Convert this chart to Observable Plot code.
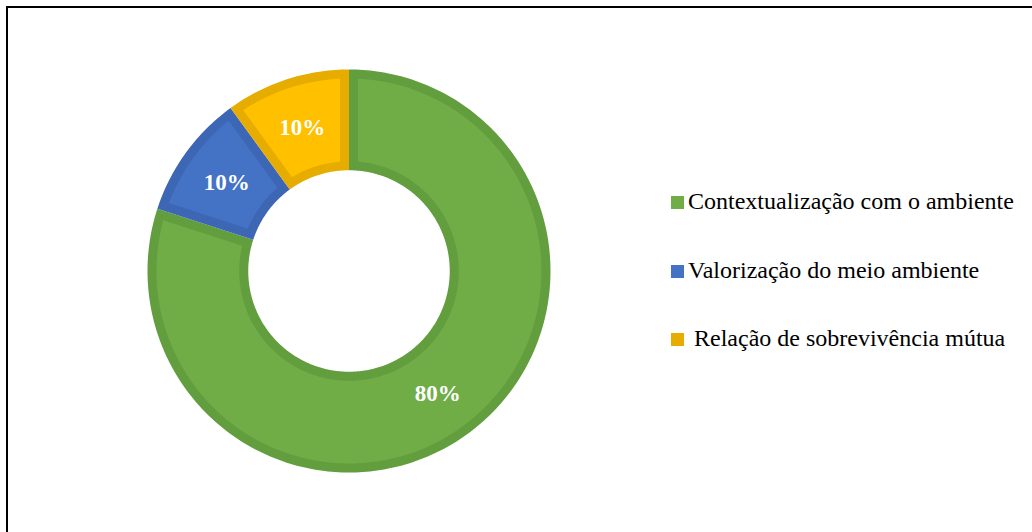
<!DOCTYPE html>
<html>
<head>
<meta charset="utf-8">
<script src="https://cdn.jsdelivr.net/npm/d3@7"></script>
<script src="https://cdn.jsdelivr.net/npm/@observablehq/plot@0.6"></script>
<style>
  html, body { margin: 0; padding: 0; background: #ffffff; }
  #wrap { position: relative; width: 1032px; height: 532px; overflow: hidden; background: #fff; }
  #chart { position: absolute; left: 0; top: 0; }
  #frame { position: absolute; left: 6px; top: 6px; width: 1040px; height: 540px;
           border-left: 2px solid #000; border-top: 2px solid #000; pointer-events: none; }
  .leg { position: absolute; left: 671px; font-family: "Liberation Serif", "Times New Roman", serif;
         font-size: 24px; line-height: 24px; color: #000; white-space: pre; }
  .leg .sw { position: absolute; left: 0; width: 13px; height: 13px; }
  .leg .tx { position: absolute; left: 17px; top: 0; }
</style>
</head>
<body>
<div id="wrap">
  <div id="chart"></div>
  <div id="legend"></div>
  <div id="frame"></div>
</div>
<script>
// ---- Data ----
const categories = ["Contextualização com o ambiente", "Valorização do meio ambiente", " Relação de sobrevivência mútua"];
const percentages = [80, 10, 10];
const pctLabels = ["80%", "10%", "10%"];
const fillColors = ["#70AD47", "#4472C4", "#FFC000"];
const borderColors = ["#629D3E", "#3D67B5", "#E6AD00"];
const legendColors = ["#70AD47", "#4472C4", "#E6AD00"];

// ---- Layout ----
const W = 1032, H = 532;
const cx = 348.5, cy = 270.5, Rpx = 201.5;
const innerRatio = 0.5;
const borderPx = 9;
const d = borderPx / Rpx;

const total = d3.sum(percentages);
let acc = 0;
const slices = percentages.map((v, i) => {
  const a0 = acc / total * 2 * Math.PI;
  acc += v;
  const a1 = acc / total * 2 * Math.PI;
  return {i, a0, a1, value: v};
});

function slicePoly(s, inset, key, color) {
  const r1 = 1, r0 = innerRatio;
  const ro = r1 - inset, ri = r0 + inset;
  const oa0 = s.a0 + Math.asin(inset / ro), oa1 = s.a1 - Math.asin(inset / ro);
  const ia0 = s.a0 + Math.asin(inset / ri), ia1 = s.a1 - Math.asin(inset / ri);
  const n = Math.max(8, Math.ceil((s.a1 - s.a0) * 180 / Math.PI));
  const pts = [];
  for (let k = 0; k <= n; k++) {
    const a = oa0 + (oa1 - oa0) * k / n;
    pts.push({key, color, x: ro * Math.sin(a), y: ro * Math.cos(a)});
  }
  for (let k = 0; k <= n; k++) {
    const a = ia1 + (ia0 - ia1) * k / n;
    pts.push({key, color, x: ri * Math.sin(a), y: ri * Math.cos(a)});
  }
  return pts;
}

const outerPolys = slices.flatMap(s => slicePoly(s, 0, "o" + s.i, borderColors[s.i]));
const innerPolys = slices.flatMap(s => slicePoly(s, d, "i" + s.i, fillColors[s.i]));

const labelData = slices.map(s => {
  const am = (s.a0 + s.a1) / 2, rm = (1 + innerRatio) / 2;
  return {x: rm * Math.sin(am), y: rm * Math.cos(am), text: pctLabels[s.i]};
});

const chart = Plot.plot({
  width: W,
  height: H,
  margin: 0,
  x: {domain: [-1, 1], range: [cx - Rpx, cx + Rpx], axis: null},
  y: {domain: [-1, 1], range: [cy + Rpx, cy - Rpx], axis: null},
  color: {type: "identity"},
  style: {background: "transparent"},
  marks: [
    Plot.line(outerPolys, {x: "x", y: "y", z: "key", fill: "color", stroke: null, curve: "linear-closed"}),
    Plot.line(innerPolys, {x: "x", y: "y", z: "key", fill: "color", stroke: null, curve: "linear-closed"}),
    Plot.text(labelData, {x: "x", y: "y", text: "text", fill: "#ffffff", fontSize: 23,
      fontWeight: "bold", fontFamily: "Liberation Serif, Times New Roman, serif",
      textAnchor: "middle", lineAnchor: "middle"})
  ]
});
document.getElementById("chart").appendChild(chart);

// ---- Legend ----
const baselines = [209, 277.5, 346];
const legend = document.getElementById("legend");
categories.forEach((c, i) => {
  const row = document.createElement("div");
  row.className = "leg";
  row.style.top = (baselines[i] - 20) + "px";
  const sw = document.createElement("span");
  sw.className = "sw";
  sw.style.background = legendColors[i];
  sw.style.top = "7px";
  const tx = document.createElement("span");
  tx.className = "tx";
  tx.textContent = c;
  row.appendChild(sw);
  row.appendChild(tx);
  legend.appendChild(row);
});
</script>
</body>
</html>
